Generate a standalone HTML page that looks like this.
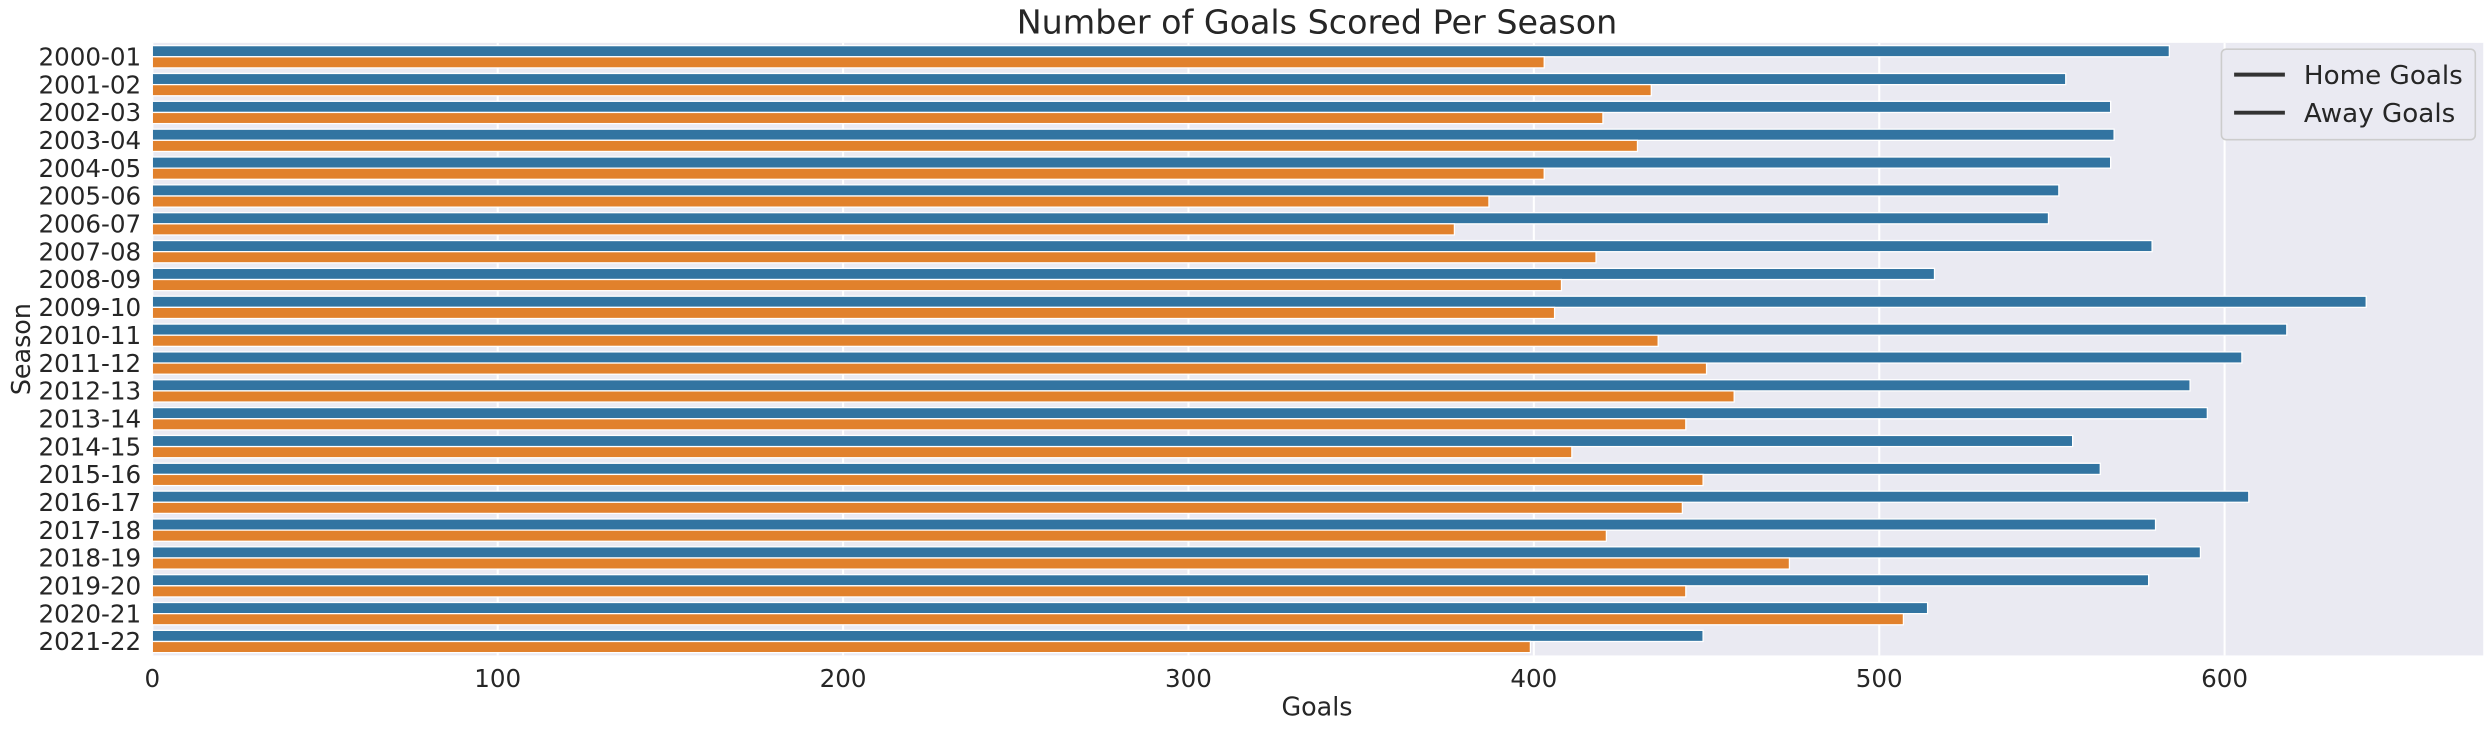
<!DOCTYPE html>
<html><head><meta charset="utf-8"><style>
body{margin:0;background:#fff;font-family:"Liberation Sans","DejaVu Sans",sans-serif;overflow:hidden;}
svg text{font-family:"DejaVu Sans","Liberation Sans",sans-serif;fill:#262626;}
</style></head><body>
<svg id="chart" width="2488" height="730" viewBox="0 0 1568 460" preserveAspectRatio="none" xmlns="http://www.w3.org/2000/svg" style="display:block">
<rect x="96" y="27" width="1469" height="386" fill="#eaeaf2"/>
<g id="grid"></g><g id="bars"></g><g id="ticks"></g>
<text x="830" y="21" font-size="21" text-anchor="middle">Number of Goals Scored Per Season</text>
<text x="830" y="451" font-size="16" text-anchor="middle">Goals</text>
<text x="0" y="0" font-size="16" text-anchor="middle" transform="translate(19,220) rotate(-90)">Season</text>
<g>
<rect x="1400" y="31" width="160" height="57" rx="3" fill="#eaeaf2" stroke="#cccccc"/>
<line x1="1408" y1="47" x2="1440" y2="47" stroke="#333" stroke-width="2.5"/>
<text x="1452" y="53" font-size="16.5">Home Goals</text>
<line x1="1408" y1="71" x2="1440" y2="71" stroke="#333" stroke-width="2.5"/>
<text x="1452" y="77" font-size="16.5">Away Goals</text>
</g>
</svg>
<script>
const seasons=["2000-01","2001-02","2002-03","2003-04","2004-05","2005-06","2006-07","2007-08","2008-09","2009-10","2010-11","2011-12","2012-13","2013-14","2014-15","2015-16","2016-17","2017-18","2018-19","2019-20","2020-21","2021-22"];
const homeGoals=[584,554,567,568,567,552,549,579,516,641,618,605,590,595,556,564,607,580,593,578,514,449];
const awayGoals=[403,434,420,430,403,387,377,418,408,406,436,450,458,444,411,449,443,421,474,444,507,399];
const xTicks=[0,100,200,300,400,500,600];
const NS="http://www.w3.org/2000/svg";
const x0=96,pxPer=(1402-96)/600,plotTop=27,band=386/22;
const X=v=>x0+v*pxPer;
const Y=i=>plotTop+i*band;
function mk(t,a,p){const e=document.createElementNS(NS,t);for(const k in a)e.setAttribute(k,a[k]);p.appendChild(e);return e;}
const grid=document.getElementById('grid'),bars=document.getElementById('bars'),ticks=document.getElementById('ticks');
xTicks.forEach(t=>{
 const l=mk('line',{x1:X(t),x2:X(t),y1:27,y2:413,stroke:'#fff','stroke-width':1.3},grid);
 
 
 const tx=mk('text',{x:X(t),y:433,'font-size':15.5,'text-anchor':'middle'},ticks);
 tx.textContent=t;
 
 
});
seasons.forEach((s,i)=>{
 const bw=band*0.4,c=Y(i)+band/2;
 const b1=mk('rect',{x:X(0),y:c-bw,width:X(homeGoals[i])-X(0),height:bw,fill:'#3274a1',stroke:'#fff','stroke-width':0.8},bars);
 
 
 const b2=mk('rect',{x:X(0),y:c,width:X(awayGoals[i])-X(0),height:bw,fill:'#e1812c',stroke:'#fff','stroke-width':0.8},bars);
 
 
 const tx=mk('text',{x:89,y:c+5.5,'font-size':15.5,'text-anchor':'end'},ticks);
 tx.textContent=s;
 
 
});
</script>
</body></html>
